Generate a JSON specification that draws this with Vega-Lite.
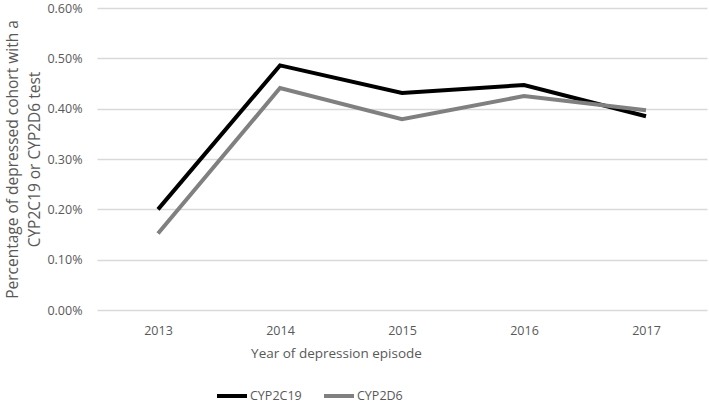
{
  "$schema": "https://vega.github.io/schema/vega-lite/v6.json",
  "autosize": {"type": "none"},
  "width": 610,
  "height": 302,
  "padding": {"left": 97, "top": 8, "right": 2, "bottom": 98},
  "background": "white",
  "config": {
    "view": {"stroke": null},
    "font": "Open Sans",
    "axis": {"labelColor": "#595959", "titleColor": "#595959", "labelFont": "Open Sans", "titleFont": "Open Sans"},
    "legend": {"labelColor": "#595959", "labelFont": "Open Sans"}
  },
  "data": {
    "values": [
      {"year": "2013", "series": "CYP2C19", "value": 0.00200},
      {"year": "2014", "series": "CYP2C19", "value": 0.00486},
      {"year": "2015", "series": "CYP2C19", "value": 0.00431},
      {"year": "2016", "series": "CYP2C19", "value": 0.00447},
      {"year": "2017", "series": "CYP2C19", "value": 0.00385},
      {"year": "2013", "series": "CYP2D6", "value": 0.00152},
      {"year": "2014", "series": "CYP2D6", "value": 0.00441},
      {"year": "2015", "series": "CYP2D6", "value": 0.00379},
      {"year": "2016", "series": "CYP2D6", "value": 0.00425},
      {"year": "2017", "series": "CYP2D6", "value": 0.00397}
    ]
  },
  "mark": {"type": "line", "strokeWidth": 4, "strokeJoin": "miter"},
  "encoding": {
    "x": {
      "field": "year", "type": "ordinal",
      "scale": {"type": "point", "padding": 0.5},
      "axis": {
        "title": "Year of depression episode",
        "labelAngle": 0, "labelFontSize": 12.5, "labelPadding": 14,
        "ticks": false, "domain": false, "grid": false,
        "titleFontSize": 13.5, "titleFontWeight": "normal",
        "titleX": 239, "titleY": 43, "titleBaseline": "middle", "titleAnchor": "middle", "titleAlign": "center"
      }
    },
    "y": {
      "field": "value", "type": "quantitative",
      "scale": {"domain": [0, 0.006]},
      "axis": {
        "title": ["Percentage of depressed cohort with a", "CYP2C19 or CYP2D6 test"],
        "format": ".2%", "values": [0, 0.001, 0.002, 0.003, 0.004, 0.005, 0.006],
        "labelOverlap": false, "labelFlush": false,
        "labelFontSize": 12.5, "labelPadding": 15,
        "ticks": false, "domain": false,
        "grid": true, "gridColor": "#d9d9d9", "gridWidth": 1.3,
        "titleFontSize": 15.5, "titleFontWeight": "normal", "titleLineHeight": 22, "titlePadding": 4
      }
    },
    "color": {
      "field": "series", "type": "nominal",
      "scale": {"domain": ["CYP2C19", "CYP2D6"], "range": ["#000000", "#808080"]},
      "legend": {
        "title": null, "orient": "none", "direction": "horizontal",
        "legendX": 118, "legendY": 371, "padding": 0,
        "symbolType": "stroke", "symbolSize": 900, "symbolStrokeWidth": 4,
        "labelFontSize": 12.5, "labelOffset": 1, "columnPadding": 14
      }
    }
  }
}
